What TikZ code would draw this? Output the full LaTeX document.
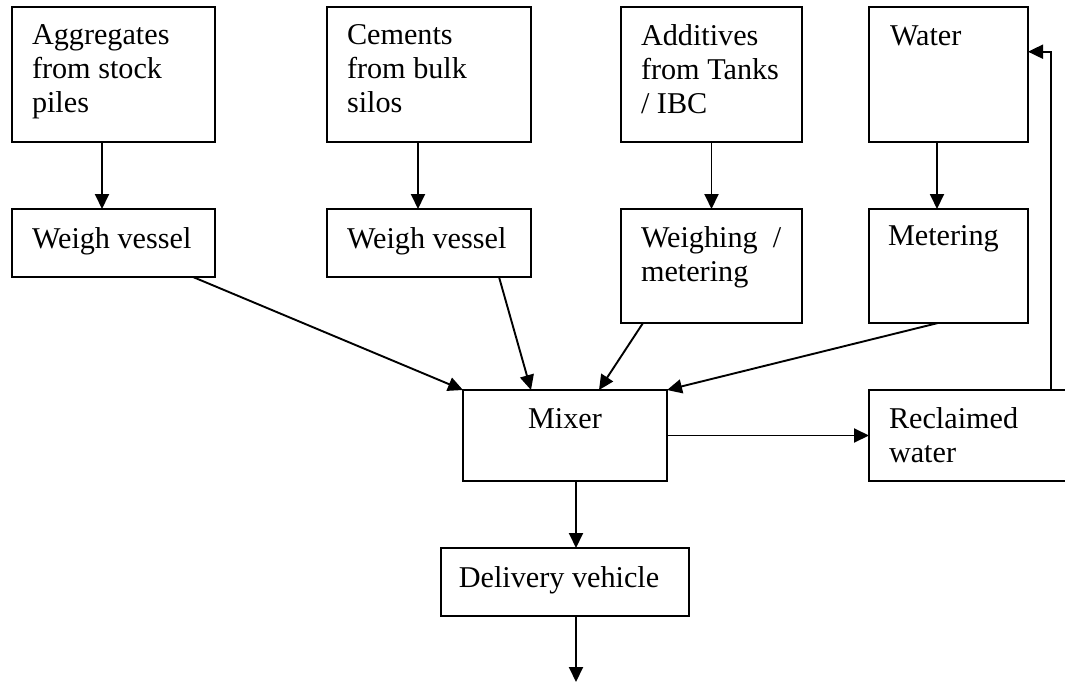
\documentclass[tikz,border=0pt]{standalone}
\usepackage{fontspec}
\setmainfont{Liberation Serif}
\usetikzlibrary{arrows.meta}
\begin{document}
\begin{tikzpicture}[x=1pt,y=-1pt,
  box/.style={draw,line width=1.9pt,inner sep=0pt,outer sep=0pt,anchor=north west},
  lbl/.style={inner sep=0pt,outer sep=0pt,anchor=base west,align=left,
    font=\fontsize{30.2}{34}\selectfont},
  arr/.style={line width=1.9pt,-{Triangle[length=15pt,width=14pt]}}]
\useasboundingbox (0,0) rectangle (1065,683);
\clip (0,0) rectangle (1065,683);
% boxes
\node[box,minimum width=203pt,minimum height=135pt] (agg) at (12,7) {};
\node[box,minimum width=204pt,minimum height=135pt] (cem) at (327,7) {};
\node[box,minimum width=181pt,minimum height=135pt] (add) at (621,7) {};
\node[box,minimum width=159pt,minimum height=135pt] (wat) at (869,7) {};
\node[box,minimum width=203pt,minimum height=68pt] (wv1) at (12,209) {};
\node[box,minimum width=204pt,minimum height=68pt] (wv2) at (327,209) {};
\node[box,minimum width=181pt,minimum height=114pt] (wm) at (621,209) {};
\node[box,minimum width=159pt,minimum height=114pt] (met) at (869,209) {};
\node[box,minimum width=204pt,minimum height=91pt] (mix) at (463,390) {};
\node[box,minimum width=211pt,minimum height=91pt] (rec) at (869,390) {};
\node[box,minimum width=248pt,minimum height=68pt] (del) at (441,548) {};
% labels (multi-line nodes: base = last line's baseline)
\node[lbl] (taggs) at (32,112) {Aggregates\\from stock\\piles};
\node[lbl] (tcem) at (347,112) {Cements\\from bulk\\silos};
\node[lbl] (tadd) at (641,113) {Additives\\from Tanks\\/ IBC};
\node[lbl] (twat) at (890,45) {Water};
\node[lbl] (twv1) at (32,248) {Weigh vessel};
\node[lbl] (twv2) at (347,248) {Weigh vessel};
\node[lbl] (twm) at (641,281) {Weighing~~/\\metering};
\node[lbl] (tmet) at (888,245) {Metering};
\node[lbl,anchor=base] (tmix) at (565,428) {Mixer};
\node[lbl] (trec) at (889,462) {Reclaimed\\water};
\node[lbl,anchor=base] (tdel) at (559,587) {Delivery vehicle};
% connectors
\draw[arr] ([xshift=-11.5pt]agg.south) -- ([xshift=-11.5pt]wv1.north);
\draw[arr] ([xshift=-11pt]cem.south) -- ([xshift=-11pt]wv2.north);
\draw[arr] (add.south) -- (wm.north);
\draw[arr] ([xshift=-11.5pt]wat.south) -- ([xshift=-11.5pt]met.north);
\draw[arr] ([xshift=-22pt]wv1.south east) -- (mix.north west);
\draw[arr] ([xshift=-32pt]wv2.south east) -- ([xshift=-34pt]mix.north);
\draw[arr] ([xshift=22pt]wm.south west) -- ([xshift=34pt]mix.north);
\draw[arr] ([xshift=-10.5pt]met.south) -- (mix.north east);
\draw[arr] (mix.east) -- (rec.west);
\draw[arr] ([xshift=11pt]mix.south) -- ([xshift=11pt]del.north);
\coordinate (fb) at (1051,51.7);
\coordinate (out) at (576,682);
\draw[arr] (rec.north -| fb) -- (fb) -- (wat.east |- fb);
\draw[arr] (del.south -| out) -- (out);
\end{tikzpicture}
\end{document}
